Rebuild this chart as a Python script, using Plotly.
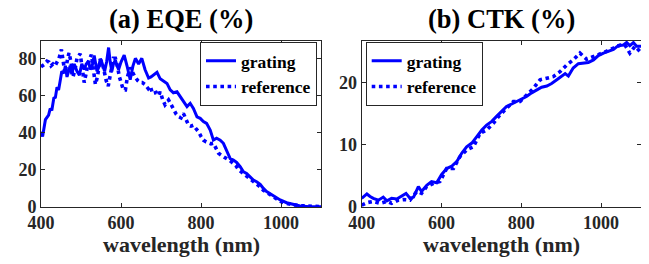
import plotly.graph_objects as go

# ---- data ----
eqe_grating_wl = [400, 404, 411, 419, 423, 427, 432, 436, 440, 444, 448, 452, 457, 461, 465, 470,
                  473, 477, 483, 490, 496, 502, 508, 513, 519, 523, 528, 533, 540, 544, 548, 552,
                  556, 559, 564, 569, 573, 577, 581, 586, 590, 594, 600, 608, 615, 623, 630, 636,
                  644, 652, 660, 669, 675, 681, 690, 698, 706, 715, 723, 731, 740,
                  748, 756, 765, 773, 781, 790, 798, 806, 814, 823, 831, 839, 848, 856, 864, 873,
                  881, 889, 898, 906, 914, 923, 931, 939, 948, 956, 964, 981, 998, 1014, 1031,
                  1048, 1072, 1100]
eqe_grating = [40.5, 38, 47, 49.5, 53, 52, 58.5, 59, 64.4, 63, 68, 73, 72, 76, 70, 74,
               76, 71.5, 77, 73, 71, 77, 74, 77, 78.5, 74, 76, 81.5, 73, 75, 79.5, 78,
               74.2, 73, 78, 85.8, 78, 73, 77, 79, 76, 74, 78, 81.8, 76, 68.5, 76, 80,
               77, 80, 74, 69.4, 70, 71, 72.5, 69, 68, 66.5, 63, 61.5, 62,
               59.5, 57.5, 54, 55.8, 53, 48.5, 47.7, 46, 45, 41.4, 36, 37, 36, 34.3, 30.7, 26,
               25.3, 24, 21.7, 19, 18, 16.3, 14.5, 13.6, 12.2, 10, 8.3, 6, 3.8, 2.3, 1.2,
               0.5, 0.2, 0.1]

eqe_reference_wl = [400, 405, 410, 415, 420, 425, 430, 435, 440, 445, 451, 455, 460, 465, 470, 475,
                    480, 485, 490, 498, 503, 508, 513, 518, 526, 530, 536, 541, 548, 553, 558,
                    563, 568, 574, 581, 586, 591, 596, 601, 606, 611, 616, 623, 629, 635, 642,
                    648, 653, 660, 668, 673, 679, 688, 694, 698, 704, 710, 719, 725, 731, 738, 744, 750,
                    756, 763, 769, 775, 781, 788, 794, 800, 806, 813, 819, 825, 831, 838, 844, 850,
                    856, 863, 869, 875, 881, 888, 894, 900, 906, 913, 919, 925, 931, 938, 944, 950,
                    956, 964, 973, 981, 989, 998, 1006, 1018, 1031, 1048, 1064, 1080, 1100]
eqe_reference = [75.5, 76, 77, 78.5, 78, 76, 77, 76, 78, 80, 84.8, 80, 72, 78, 83, 78,
                 70, 74, 80, 82.5, 74, 67, 72, 78, 82, 76, 66, 70, 79.6, 78, 72,
                 68, 65, 72, 80, 80, 76, 70, 66, 63, 63, 70, 75, 72, 70, 68,
                 67, 67, 66, 63.7, 65, 61, 61.7, 60, 62, 58, 55, 57.6, 55, 52, 50, 48.6, 48,
                 50.4, 47, 44, 43.5, 44, 42, 40.5, 38, 36, 35, 34.3, 34, 34.3, 31, 28.9, 28,
                 27, 26, 25.3, 24.5, 23.5, 22, 20, 19, 18, 16.5, 15.4, 14.5, 13.6, 12.5, 11.8, 10.5,
                 9, 7.8, 6.5, 5.3, 4.1, 3.1, 2.3, 1.6, 1.2, 0.7, 0.4, 0.3, 0.2]

ctk_grating_wl = [400, 413, 421, 429, 442, 454, 463, 475, 488, 500, 511, 521, 530, 542, 550, 563,
                  575, 588, 600, 613, 626, 638, 651, 663, 676, 688, 701, 713, 726, 738, 751, 763,
                  776, 788, 801, 813, 826, 839, 851, 864, 876, 889, 901, 910, 918, 930, 943, 955,
                  968, 981, 993, 1006, 1018, 1031, 1043, 1056, 1064, 1072, 1081, 1089, 1100]
ctk_grating = [1.4, 2.1, 1.7, 1.4, 1.1, 1.6, 1.0, 1.4, 1.3, 1.7, 2.2, 1.4, 1.6, 3.3, 2.5, 3.5,
               4.1, 3.9, 5.2, 6.2, 6.6, 7.3, 8.7, 9.7, 10.3, 11.3, 12.4, 13.2, 13.8, 14.6, 15.4, 16.2,
               16.6, 17.0, 17.3, 17.8, 18.4, 18.9, 19.3, 19.5, 19.9, 20.5, 21.1, 21.5, 21.1, 22.4, 23.1, 23.2,
               23.3, 23.7, 24.4, 24.8, 25.1, 25.4, 26.0, 26.1, 26.5, 26.0, 26.5, 25.9, 25.9]

ctk_reference_wl = [400, 413, 429, 446, 463, 475, 492, 504, 521, 538, 550, 563, 580, 596, 613, 630,
                    646, 663, 680, 697, 713, 730, 746, 763, 780, 797, 813, 830, 847, 864, 880, 897,
                    914, 930, 947, 964, 981, 997, 1014, 1031, 1048, 1060, 1072, 1085, 1100]
ctk_reference = [0.3, 0.7, 0.9, 0.6, 0.9, 0.6, 1.1, 1.2, 1.1, 2.5, 2.2, 3.3, 3.8, 4.1, 6.2, 6.2,
                 8.1, 9.2, 9.7, 11.9, 12.4, 13.5, 14.8, 15.9, 17.0, 17.0, 18.1, 19.1, 20.5, 20.8, 21.0, 21.8,
                 22.9, 23.7, 24.8, 23.8, 24.2, 24.7, 25.1, 25.6, 26.1, 26.1, 24.8, 25.9, 24.9]

x_ticks = [400, 600, 800, 1000]
eqe_ticks = [0, 20, 40, 60, 80]
ctk_ticks = [0, 10, 20]
titles = ["(a) EQE (%)", "(b) CTK (%)"]
x_label = "wavelength (nm)"
series_names = ["grating", "reference"]

# ---- styling ----
OFF = 8                      # page body margin offset
W, H = 649 - OFF, 264 - OFF
BLUE = "#0000ff"
INK = "#262626"
FONT = "Liberation Serif"

def px_x(p):
    return (p - OFF) / W

def px_y(p):
    return 1 - (p - OFF) / H

fig = go.Figure()

def add_pair(xa, ya, leg, gwl, g, rwl, r):
    fig.add_trace(go.Scatter(x=gwl, y=g, mode="lines", name=series_names[0],
                             line=dict(color=BLUE, width=3), xaxis=xa, yaxis=ya, legend=leg))
    fig.add_trace(go.Scatter(x=rwl, y=r, mode="lines", name=series_names[1],
                             line=dict(color=BLUE, width=3.6, dash="dot"), xaxis=xa, yaxis=ya, legend=leg))

add_pair("x", "y", "legend", eqe_grating_wl, eqe_grating, eqe_reference_wl, eqe_reference)
add_pair("x2", "y2", "legend2", ctk_grating_wl, ctk_grating, ctk_reference_wl, ctk_reference)

ydom = [px_y(207), px_y(40.7)]
xdom1 = [px_x(41), px_x(321)]
xdom2 = [px_x(361.7), px_x(641)]

axis_common = dict(showline=True, linecolor=INK, linewidth=1, mirror="ticks", ticks="inside",
                   ticklen=4, tickcolor=INK, showgrid=False, zeroline=False, automargin=False,
                   tickfont=dict(family=FONT, size=18, color=INK, weight="bold"))
xaxis_extra = dict(ticklabelstandoff=-1)

legend_common = dict(bgcolor="white", bordercolor=INK, borderwidth=1, itemwidth=30,
                     tracegroupgap=0, font=dict(family=FONT, size=17.5, color="black", weight="bold"))

fig.update_layout(
    width=W, height=H, margin=dict(l=0, r=0, t=0, b=0, autoexpand=False),
    paper_bgcolor="white", plot_bgcolor="white",
    xaxis=dict(domain=xdom1, range=[400, 1100], tickvals=x_ticks, anchor="y", **axis_common, **xaxis_extra),
    yaxis=dict(domain=ydom, range=[0, 89.5], tickvals=eqe_ticks, anchor="x", **axis_common),
    xaxis2=dict(domain=xdom2, range=[400, 1100], tickvals=x_ticks, anchor="y2", **axis_common, **xaxis_extra),
    yaxis2=dict(domain=ydom, range=[0, 26.8], tickvals=ctk_ticks, anchor="x2", **axis_common),
    legend=dict(x=px_x(317), y=px_y(41.8), xanchor="right", yanchor="top", **legend_common),
    legend2=dict(x=px_x(365.7), y=px_y(41.8), xanchor="left", yanchor="top", **legend_common),
    showlegend=True,
)

for i, dom in enumerate([xdom1, xdom2]):
    cx = (dom[0] + dom[1]) / 2
    fig.add_annotation(text=titles[i], x=cx, y=px_y(19), xref="paper", yref="paper",
                       xanchor="center", yanchor="middle", showarrow=False,
                       font=dict(family=FONT, size=26.5, color="black", weight="bold"))
    fig.add_annotation(text=x_label, x=cx, y=px_y(244), xref="paper", yref="paper",
                       xanchor="center", yanchor="middle", showarrow=False,
                       font=dict(family=FONT, size=22, color=INK, weight="bold"))

fig.write_html("out.html")
